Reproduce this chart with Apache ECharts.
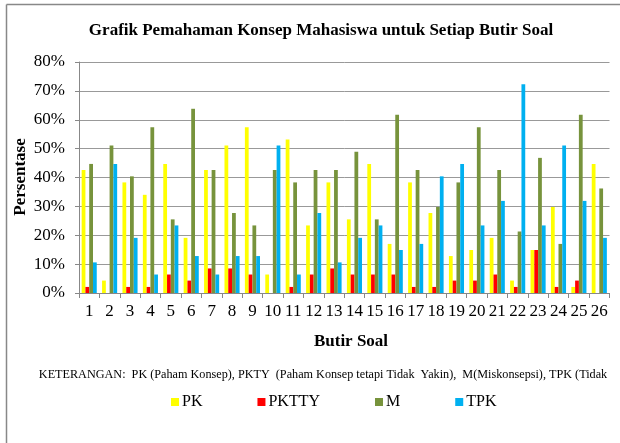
<!DOCTYPE html>
<html>
<head>
<meta charset="utf-8">
<script src="https://cdn.jsdelivr.net/npm/echarts@6/dist/echarts.min.js"></script>
<style>html,body{margin:0;padding:0;background:#fff;}#c{width:620px;height:443px;}</style>
</head>
<body>
<div id="c"></div>
<script>
const categories = ['1','2','3','4','5','6','7','8','9','10','11','12','13','14','15','16','17','18','19','20','21','22','23','24','25','26'];
const pk    = [42.6, 4.3, 38.3, 34.0, 44.7, 19.1, 42.6, 51.1, 57.4, 6.4, 53.2, 23.4, 38.3, 25.5, 44.7, 17.0, 38.3, 27.7, 12.8, 14.9, 19.1, 4.3, 14.9, 29.8, 2.1, 44.7];
const pktty = [2.1, 0, 2.1, 2.1, 6.4, 4.3, 8.5, 8.5, 6.4, 0, 2.1, 6.4, 8.5, 6.4, 6.4, 6.4, 2.1, 2.1, 4.3, 4.3, 6.4, 2.1, 14.9, 2.1, 4.3, 0];
const m     = [44.7, 51.1, 40.4, 57.4, 25.5, 63.8, 42.6, 27.7, 23.4, 42.6, 38.3, 42.6, 42.6, 48.9, 25.5, 61.7, 42.6, 29.8, 38.3, 57.4, 42.6, 21.3, 46.8, 17.0, 61.7, 36.2];
const tpk   = [10.6, 44.7, 19.1, 6.4, 23.4, 12.8, 6.4, 12.8, 12.8, 51.1, 6.4, 27.7, 10.6, 19.1, 23.4, 14.9, 17.0, 40.4, 44.7, 23.4, 31.9, 72.3, 23.4, 51.1, 31.9, 19.1];
const seriesNames = ['PK', 'PKTTY', 'M', 'TPK'];
const titleText = 'Grafik Pemahaman Konsep Mahasiswa untuk Setiap Butir Soal';
const xName = 'Butir Soal';
const yName = 'Persentase';
const noteText = 'KETERANGAN:  PK (Paham Konsep), PKTY  (Paham Konsep tetapi Tidak  Yakin),  M(Miskonsepsi), TPK (Tidak';

const FONT = '"Liberation Serif", "DejaVu Serif", serif';
const colors = ['#FFFF00', '#FF0000', '#77933C', '#00B0F0'];
const chart = echarts.init(document.getElementById('c'), null, {renderer: 'canvas'});
const dataSets = [pk, pktty, m, tpk];

chart.setOption({
  animation: false,
  color: colors,
  title: [
    {text: titleText, left: 316, top: 17, textAlign: 'center', textStyle: {fontFamily: FONT, fontSize: 17, fontWeight: 'bold', color: '#000'}},
    {text: xName, left: 346, top: 328, textAlign: 'center', textStyle: {fontFamily: FONT, fontSize: 17, fontWeight: 'bold', color: '#000'}},
    {text: noteText, left: 318, top: 364, textAlign: 'center', textStyle: {fontFamily: FONT, fontSize: 12.2, fontWeight: 'normal', color: '#000'}}
  ],
  legend: {
    data: seriesNames,
    left: 166, top: 389,
    icon: 'rect', itemWidth: 8, itemHeight: 8, itemGap: 55,
    textStyle: {fontFamily: FONT, fontSize: 16, color: '#000', padding: [0,0,0,-2]}
  },
  grid: {left: 79, right: 10.5, top: 62, bottom: 150},
  xAxis: {
    type: 'category', data: categories,
    axisLine: {lineStyle: {color: '#888', width: 1}},
    axisTick: {show: true, length: 5, lineStyle: {color: '#888'}},
    axisLabel: {fontFamily: FONT, fontSize: 17, color: '#000', margin: 10, interval: 0}
  },
  yAxis: {
    type: 'value', min: 0, max: 80, interval: 10,
    axisLine: {show: true, lineStyle: {color: '#888', width: 1}},
    axisTick: {show: true, length: 4, lineStyle: {color: '#888'}},
    axisLabel: {fontFamily: FONT, fontSize: 17, color: '#000', margin: 14, formatter: '{value}%'},
    splitLine: {lineStyle: {color: '#999', width: 1}}
  },
  series: seriesNames.map((n, i) => ({
    name: n, type: 'bar', data: dataSets[i],
    barGap: '0%', barCategoryGap: '26%'
  })),
  graphic: [
    {type: 'line', shape: {x1: 6.5, y1: 4.5, x2: 620, y2: 4.5}, style: {stroke: '#888', lineWidth: 1.5}},
    {type: 'line', shape: {x1: 6.5, y1: 4.5, x2: 6.5, y2: 443}, style: {stroke: '#888', lineWidth: 1.5}},
    {type: 'text', x: 21, y: 177, rotation: Math.PI / 2,
     style: {text: yName, fontFamily: FONT, fontSize: 17, fontWeight: 'bold', fill: '#000', align: 'center', verticalAlign: 'middle'}}
  ]
});
</script>
</body>
</html>
